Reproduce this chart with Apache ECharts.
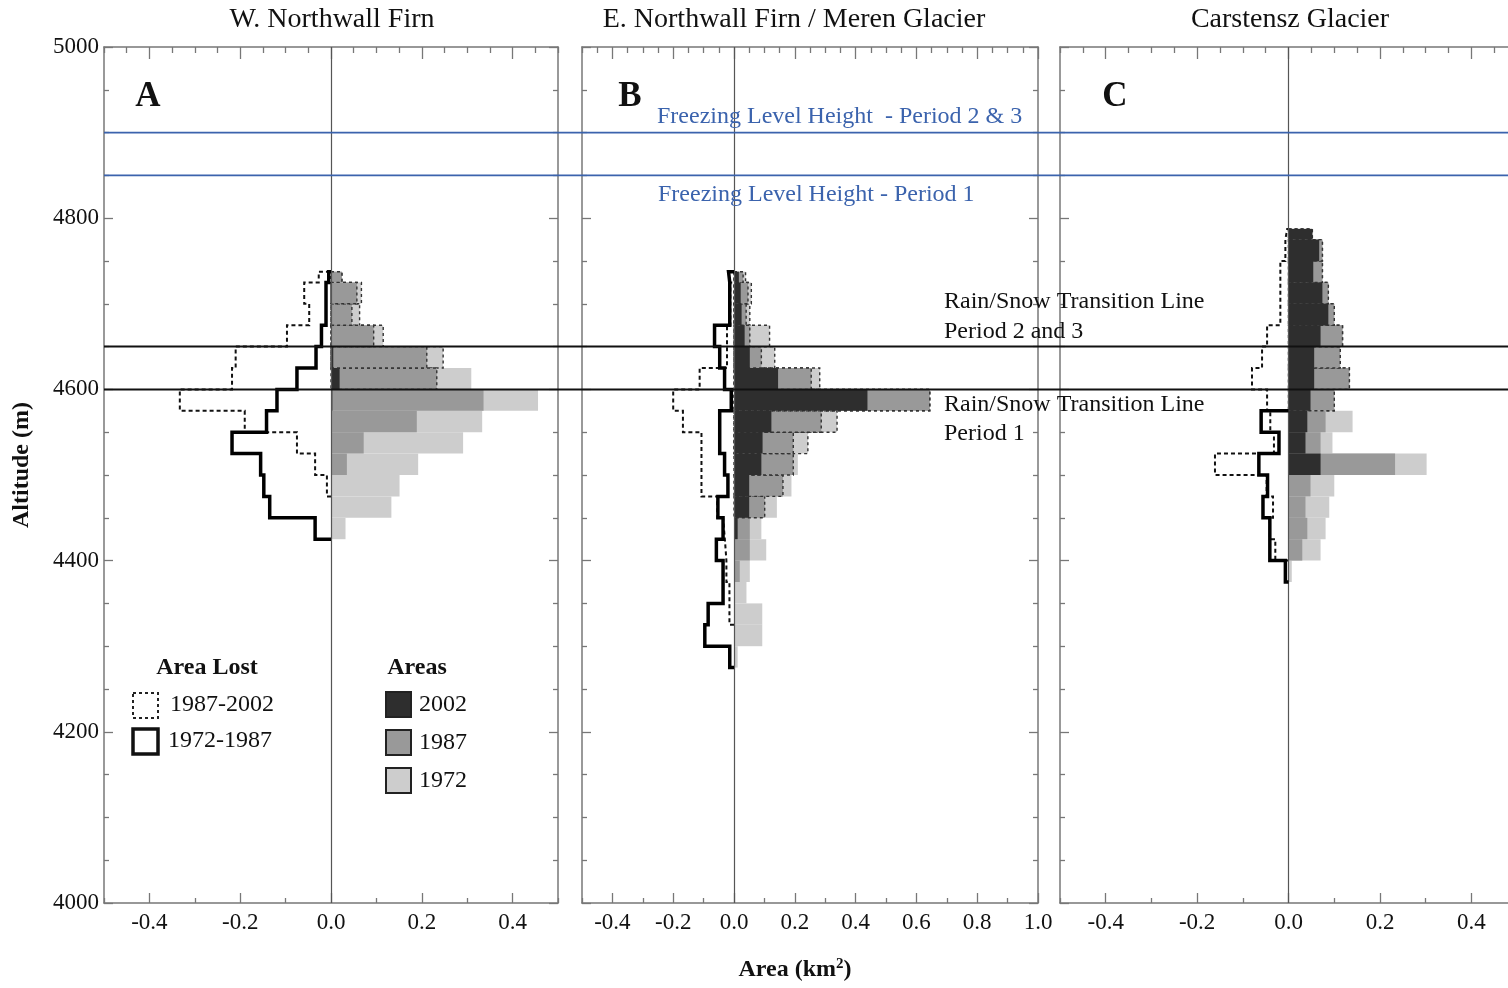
<!DOCTYPE html>
<html><head><meta charset="utf-8">
<script src="https://cdn.jsdelivr.net/npm/echarts@6/dist/echarts.min.js"></script>
<style>html,body{margin:0;padding:0;background:#fff}#c{width:1508px;height:988px}</style>
</head><body><div id="c"></div>
<script>
// ================= DATA =================
const titles = ['W. Northwall Firn', 'E. Northwall Firn / Meren Glacier', 'Carstensz Glacier'];
const panelLetters = ['A', 'B', 'C'];

// Panel A (lower edges of 25 m altitude bins, top edge of last bin)
const binsA = [4425,4450,4475,4500,4525,4550,4575,4600,4625,4650,4675,4700,4725];
const topA = 4737.5;
const area1972A = [0.032,0.133,0.151,0.192,0.291,0.333,0.456,0.309,0.247,0.115,0.063,0.067,0.024];
const area1987A = [0,0,0,0.035,0.072,0.189,0.336,0.233,0.211,0.094,0.046,0.057,0.024];
const area2002A = [0,0,0,0,0,0,0.003,0.019,0.005,0,0,0,0];
const lost7287A = [-0.035,-0.135,-0.148,-0.155,-0.218,-0.142,-0.119,-0.075,-0.033,-0.021,-0.011,-0.011,-0.005];
const lost8702A = [0,0,-0.009,-0.035,-0.075,-0.19,-0.333,-0.218,-0.21,-0.097,-0.048,-0.059,-0.027];

// Panel B
const binsB = [4275,4300,4325,4350,4375,4400,4425,4450,4475,4500,4525,4550,4575,4600,4625,4650,4675,4700,4725];
const topB = 4737.5;
const area1972B = [0.012,0.093,0.093,0.041,0.052,0.106,0.09,0.141,0.189,0.21,0.243,0.339,0.644,0.282,0.134,0.117,0.052,0.057,0.038];
const area1987B = [0,0,0,0,0.019,0.052,0.052,0.101,0.161,0.195,0.195,0.287,0.644,0.254,0.09,0.052,0.04,0.046,0.03];
const area2002B = [0,0,0,0,0,0,0.012,0.05,0.05,0.09,0.094,0.123,0.439,0.145,0.052,0.035,0.025,0.022,0.016];
const lost7287B = [-0.014,-0.096,-0.085,-0.036,-0.036,-0.058,-0.036,-0.053,-0.02,-0.031,-0.047,-0.047,-0.009,-0.031,-0.047,-0.064,-0.014,-0.014,-0.018];
const lost8702B = [0,0,-0.015,-0.015,-0.025,-0.03,-0.036,-0.055,-0.107,-0.107,-0.107,-0.168,-0.2,-0.113,-0.023,-0.023,-0.012,-0.012,0];

// Panel C
const binsC = [4375,4400,4425,4450,4475,4500,4525,4550,4575,4600,4625,4650,4675,4700,4725,4750,4775];
const topC = 4787.5;
const area1972C = [0.007,0.07,0.081,0.089,0.1,0.302,0.096,0.14,0.1,0.133,0.113,0.118,0.1,0.087,0.074,0.074,0.052];
const area1987C = [0,0.03,0.041,0.037,0.048,0.233,0.07,0.081,0.1,0.133,0.113,0.118,0.1,0.087,0.074,0.074,0.052];
const area2002C = [0,0,0,0,0,0.07,0.037,0.041,0.048,0.056,0.056,0.07,0.087,0.074,0.054,0.067,0.052];
const lost7287C = [-0.007,-0.041,-0.041,-0.056,-0.046,-0.065,-0.021,-0.06,0,0,0,0,0,0,0,0,0];
const lost8702C = [0,-0.029,-0.041,-0.034,-0.048,-0.161,-0.032,-0.04,-0.047,-0.08,-0.058,-0.047,-0.018,-0.018,-0.018,-0.007,-0.003];

// Axes / tick labels (panel C is cut off at the right edge of the figure)
const xRangeA = [-0.5, 0.5], xRangeB = [-0.5, 1.0], xRangeC = [-0.5, 0.48];
const xLabelsA = [-0.4,-0.2,0,0.2,0.4];
const xLabelsB = [-0.4,-0.2,0,0.2,0.4,0.6,0.8,1.0];
const xLabelsC = [-0.4,-0.2,0,0.2,0.4];
const yRange = [4000, 5000];
const yStep = 200;

// Reference lines
const freezingLevels = [4900, 4850];
const rainSnowLines = [4650, 4600];

// ================= CHART =================
const FONT = '"Liberation Serif","DejaVu Serif",serif';
const C_1972 = '#cdcdcd', C_1987 = '#999999', C_2002 = '#2e2e2e';
const AXC = '#777';

const panels = [
  {bins: binsA, top: topA, a72: area1972A, a87: area1987A, a02: area2002A, l1: lost7287A, l2: lost8702A, range: xRangeA, labels: xLabelsA, dash87: 4600, dash72: 4625, rightFrame: true},
  {bins: binsB, top: topB, a72: area1972B, a87: area1987B, a02: area2002B, l1: lost7287B, l2: lost8702B, range: xRangeB, labels: xLabelsB, dash87: 4450, dash72: 4525, rightFrame: true},
  {bins: binsC, top: topC, a72: area1972C, a87: area1987C, a02: area2002C, l1: lost7287C, l2: lost8702C, range: xRangeC, labels: xLabelsC, dash87: 4575, dash72: 4575, rightFrame: false}
];
const gridBoxes = [{left: 104, width: 454}, {left: 582, width: 456}, {left: 1060, width: 448}];

function tenths(range, step, skip) {
  const out = [];
  const n0 = Math.ceil(range[0] / step - 1e-9), n1 = Math.floor(range[1] / step + 1e-9);
  for (let n = n0; n <= n1; n++) {
    const v = +(n * step).toFixed(3);
    if (!skip.some(s => Math.abs(s - v) < 1e-6)) out.push(v);
  }
  return out;
}

function binItems(p, vals, dashFrom) {
  return p.bins.map((lo, i) => {
    const hi = i + 1 < p.bins.length ? p.bins[i + 1] : p.top;
    return [lo, hi, vals[i], lo >= dashFrom ? 1 : 0];
  });
}

function stepPoints(p, vals) {
  let first = vals.findIndex(v => v !== 0);
  let last = vals.length - 1;
  while (last >= 0 && vals[last] === 0) last--;
  if (first < 0) return [];
  const pts = [[0, p.bins[first]]];
  for (let i = first; i <= last; i++) {
    const hi = i + 1 < p.bins.length ? p.bins[i + 1] : p.top;
    pts.push([vals[i], p.bins[i]]);
    pts.push([vals[i], hi]);
  }
  pts.push([0, last + 1 < p.bins.length ? p.bins[last + 1] : p.top]);
  return pts;
}

function rectRenderer(fill, dashed) {
  return function (params, api) {
    const lo = api.value(0), hi = api.value(1), v = api.value(2), d = api.value(3);
    if (!v) return null;
    const p0 = api.coord([0, lo]);
    const p1 = api.coord([v, hi]);
    const style = {fill: fill};
    if (dashed && d) {
      style.stroke = '#333'; style.lineWidth = 1.4; style.lineDash = [3, 3];
    }
    return {
      type: 'rect',
      shape: {x: Math.min(p0[0], p1[0]), y: Math.min(p0[1], p1[1]),
              width: Math.abs(p1[0] - p0[0]), height: Math.abs(p1[1] - p0[1])},
      style: style
    };
  };
}

const grids = [], xAxes = [], yAxes = [], series = [];
panels.forEach((p, g) => {
  grids.push({left: gridBoxes[g].left, width: gridBoxes[g].width, top: 47, height: 856});
  const minors = tenths(p.range, 0.1, p.labels);
  const minorsTop = tenths(p.range, 0.05, p.labels);
  const lineStyle = {color: AXC, width: 1.5};
  const tickLS = {color: AXC, width: 1.3};
  const base = {type: 'value', gridIndex: g, min: p.range[0], max: p.range[1], splitLine: {show: false}};
  xAxes.push(Object.assign({}, base, {position: 'bottom', axisLine: {show: true, onZero: false, lineStyle},
    axisTick: {show: true, inside: true, length: 10, lineStyle: tickLS, customValues: p.labels},
    axisLabel: {show: true, customValues: p.labels, formatter: v => (+v).toFixed(1), fontFamily: FONT, fontSize: 23, color: '#111', margin: 8}}));
  xAxes.push(Object.assign({}, base, {position: 'bottom', axisLine: {show: false, onZero: false},
    axisTick: {show: true, inside: true, length: 5, lineStyle: tickLS, customValues: minors},
    axisLabel: {show: false}}));
  xAxes.push(Object.assign({}, base, {position: 'top', axisLine: {show: true, onZero: false, lineStyle},
    axisTick: {show: true, inside: true, length: 12, lineStyle: tickLS, customValues: p.labels},
    axisLabel: {show: false}}));
  xAxes.push(Object.assign({}, base, {position: 'top', axisLine: {show: false, onZero: false},
    axisTick: {show: true, inside: true, length: 6, lineStyle: tickLS, customValues: minorsTop},
    axisLabel: {show: false}}));
  ['left', 'right'].forEach(pos => {
    const vis = pos === 'left' || p.rightFrame;
    yAxes.push({type: 'value', gridIndex: g, position: pos, min: yRange[0], max: yRange[1], interval: yStep,
      axisLine: {show: vis, onZero: false, lineStyle},
      axisTick: {show: vis, inside: true, length: 9, lineStyle: tickLS},
      minorTick: {show: vis, splitNumber: 4, length: 5, lineStyle: tickLS},
      splitLine: {show: false},
      axisLabel: {show: g === 0 && pos === 'left', formatter: v => String(v), fontFamily: FONT, fontSize: 23, color: '#111', margin: 5}});
  });
  const xi = g * 4, yi = g * 2;
  const mk = (name, vals, fill, dashFrom) => ({
    type: 'custom', name, xAxisIndex: xi, yAxisIndex: yi, coordinateSystem: 'cartesian2d',
    renderItem: rectRenderer(fill, true), encode: {x: 2, y: [0, 1]},
    data: binItems(p, vals, dashFrom), z: 2, silent: true
  });
  series.push(mk('1972', p.a72, C_1972, p.dash72));
  series.push(mk('1987', p.a87, C_1987, p.dash87));
  series.push(mk('2002', p.a02, C_2002, 99999));
  series.push({type: 'line', name: '1987-2002 lost', xAxisIndex: xi, yAxisIndex: yi, data: stepPoints(p, p.l2),
    symbol: 'none', showSymbol: false, z: 4, silent: true,
    lineStyle: {color: '#111', width: 2, type: [4, 3], join: 'miter'}});
  series.push({type: 'line', name: '1972-1987 lost', xAxisIndex: xi, yAxisIndex: yi, data: stepPoints(p, p.l1),
    symbol: 'none', showSymbol: false, z: 5, silent: true,
    lineStyle: {color: '#000', width: 3.5, join: 'miter'},
    markLine: {silent: true, symbol: ['none', 'none'], label: {show: false},
      lineStyle: {color: '#555', width: 1.2, type: 'solid'}, data: [{xAxis: 0}]}});
});

const chart = echarts.init(document.getElementById('c'), null, {renderer: 'canvas'});
chart.setOption({animation: false, backgroundColor: '#fff', grid: grids, xAxis: xAxes, yAxis: yAxes, series: series});

// ---- graphics: reference lines via the axis scale, texts, legend ----
const W = chart.getWidth();
const gfx = [];
const leftX = chart.convertToPixel({xAxisIndex: 0, yAxisIndex: 0}, [xRangeA[0], 4000])[0];
freezingLevels.forEach(a => {
  const y = chart.convertToPixel({xAxisIndex: 0, yAxisIndex: 0}, [0, a])[1];
  gfx.push({type: 'line', z: 50, shape: {x1: leftX, y1: y, x2: W, y2: y}, style: {stroke: '#3b63ad', lineWidth: 1.6}});
});
rainSnowLines.forEach(a => {
  const y = chart.convertToPixel({xAxisIndex: 0, yAxisIndex: 0}, [0, a])[1];
  gfx.push({type: 'line', z: 50, shape: {x1: leftX, y1: y, x2: W, y2: y}, style: {stroke: '#111', lineWidth: 2}});
});
function txt(t, x, y, opt) {
  opt = opt || {};
  return {type: 'text', z: 60, x: x, y: y, rotation: opt.rot || 0,
    style: {text: t, x: 0, y: 0, fill: opt.color || '#111', textAlign: opt.align || 'left', textVerticalAlign: 'middle',
      font: (opt.bold ? 'bold ' : '') + (opt.size || 24) + 'px ' + FONT}};
}
gfx.push(txt(titles[0], 332, 20, {align: 'center', size: 28}));
gfx.push(txt(titles[1], 794, 20, {align: 'center', size: 28}));
gfx.push(txt(titles[2], 1290, 20, {align: 'center', size: 28}));
gfx.push(txt(panelLetters[0], 148, 97, {align: 'center', size: 35, bold: true}));
gfx.push(txt(panelLetters[1], 630, 97, {align: 'center', size: 35, bold: true}));
gfx.push(txt(panelLetters[2], 1115, 97, {align: 'center', size: 35, bold: true}));
gfx.push(txt('Freezing Level Height  - Period 2 & 3', 657, 117, {color: '#3b63ad'}));
gfx.push(txt('Freezing Level Height - Period 1', 658, 195, {color: '#3b63ad'}));
gfx.push(txt('Rain/Snow Transition Line', 944, 302));
gfx.push(txt('Period 2 and 3', 944, 332));
gfx.push(txt('Rain/Snow Transition Line', 944, 405));
gfx.push(txt('Period 1', 944, 434));
gfx.push(txt('Altitude (m)', 22, 465, {align: 'center', size: 24, bold: true, rot: Math.PI / 2}));
gfx.push({type: 'text', z: 60, x: 795, y: 970,
  style: {text: 'Area (km{s|2})', x: 0, y: 0, fill: '#111', textAlign: 'center', textVerticalAlign: 'middle',
    font: 'bold 24px ' + FONT,
    rich: {s: {fontSize: 15, fontWeight: 'bold', fontFamily: FONT, fill: '#111', verticalAlign: 'top', padding: [0, 0, 12, 0]}}}});
// legend
gfx.push(txt('Area Lost', 207, 668, {align: 'center', bold: true}));
gfx.push({type: 'rect', z: 60, shape: {x: 133, y: 693, width: 25, height: 25}, style: {fill: '#fff', stroke: '#222', lineWidth: 2, lineDash: [3, 3]}});
gfx.push(txt('1987-2002', 170, 705));
gfx.push({type: 'rect', z: 60, shape: {x: 133, y: 729, width: 25, height: 25}, style: {fill: '#fff', stroke: '#111', lineWidth: 3.5}});
gfx.push(txt('1972-1987', 168, 741));
gfx.push(txt('Areas', 417, 668, {align: 'center', bold: true}));
[[C_2002, '2002', 692], [C_1987, '1987', 730], [C_1972, '1972', 768]].forEach(e => {
  gfx.push({type: 'rect', z: 60, shape: {x: 386, y: e[2], width: 25, height: 25}, style: {fill: e[0], stroke: '#222', lineWidth: 2}});
  gfx.push(txt(e[1], 419, e[2] + 13));
});
chart.setOption({graphic: gfx});
</script>
</body></html>
